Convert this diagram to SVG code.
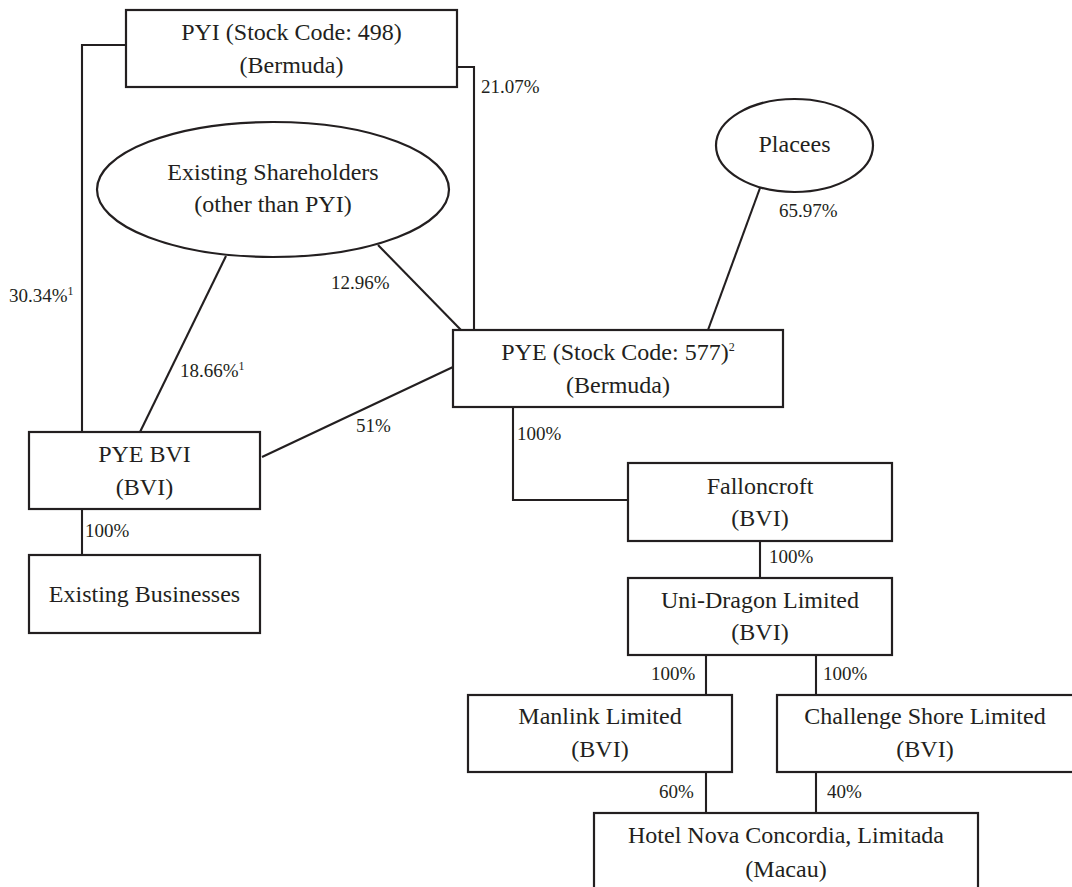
<svg xmlns="http://www.w3.org/2000/svg" width="1072" height="887" viewBox="0 0 1072 887">
<style>
  .box{fill:#fff;stroke:#231f20;stroke-width:2.2}
  .ln{fill:none;stroke:#231f20;stroke-width:2.1}
  .t{font-family:"Liberation Serif","Times New Roman",serif;font-size:24px;fill:#231f20;text-anchor:middle}
  .l{font-family:"Liberation Serif","Times New Roman",serif;font-size:19px;fill:#231f20}
  .s{font-size:12px}
</style>
<rect width="1072" height="887" fill="#fff"/>
<g id="connectors">
  <polyline class="ln" points="126,45 82,45 82,432"/>
  <polyline class="ln" points="457,67 474,67 474,330"/>
  <line class="ln" x1="226" y1="256" x2="140" y2="432"/>
  <line class="ln" x1="378" y1="245" x2="461" y2="330"/>
  <line class="ln" x1="262" y1="457" x2="453" y2="367"/>
  <line class="ln" x1="760" y1="188" x2="708" y2="330"/>
  <line class="ln" x1="82" y1="509" x2="82" y2="555"/>
  <polyline class="ln" points="513,407 513,500 628,500"/>
  <line class="ln" x1="760" y1="541" x2="760" y2="578"/>
  <line class="ln" x1="706" y1="655" x2="706" y2="695"/>
  <line class="ln" x1="816" y1="655" x2="816" y2="695"/>
  <line class="ln" x1="706" y1="772" x2="706" y2="813"/>
  <line class="ln" x1="816" y1="772" x2="816" y2="813"/>
  <text class="l" x="481" y="93">21.07%</text>
  <text class="l" x="331" y="289">12.96%</text>
  <text class="l" x="9" y="302">30.34%<tspan class="s" dy="-7">1</tspan></text>
  <text class="l" x="180" y="377">18.66%<tspan class="s" dy="-7">1</tspan></text>
  <text class="l" x="356" y="432">51%</text>
  <text class="l" x="779" y="217">65.97%</text>
  <text class="l" x="85" y="537">100%</text>
  <text class="l" x="517" y="440">100%</text>
  <text class="l" x="769" y="563">100%</text>
  <text class="l" x="651" y="680">100%</text>
  <text class="l" x="823" y="680">100%</text>
  <text class="l" x="659" y="798">60%</text>
  <text class="l" x="827" y="798">40%</text>
</g>
<g id="pyi">
  <rect class="box" x="126" y="10" width="331" height="77"/>
  <text class="t" x="291.5" y="40">PYI (Stock Code: 498)</text>
  <text class="t" x="291.5" y="73">(Bermuda)</text>
</g>
<g id="existing-shareholders">
  <ellipse class="box" cx="273" cy="189.5" rx="176" ry="67.5"/>
  <text class="t" x="273" y="180">Existing Shareholders</text>
  <text class="t" x="273" y="212">(other than PYI)</text>
</g>
<g id="placees">
  <ellipse class="box" cx="794.5" cy="145.5" rx="78.5" ry="46.5"/>
  <text class="t" x="794.5" y="152">Placees</text>
</g>
<g id="pye">
  <rect class="box" x="453" y="330" width="330" height="77"/>
  <text class="t" x="618" y="360">PYE (Stock Code: 577)<tspan class="s" dy="-9">2</tspan></text>
  <text class="t" x="618" y="393">(Bermuda)</text>
</g>
<g id="pye-bvi">
  <rect class="box" x="29" y="432" width="231" height="77"/>
  <text class="t" x="144.5" y="462">PYE BVI</text>
  <text class="t" x="144.5" y="495">(BVI)</text>
</g>
<g id="existing-businesses">
  <rect class="box" x="29" y="555" width="231" height="78"/>
  <text class="t" x="144.5" y="602">Existing Businesses</text>
</g>
<g id="falloncroft">
  <rect class="box" x="628" y="463" width="264" height="78"/>
  <text class="t" x="760" y="494">Falloncroft</text>
  <text class="t" x="760" y="526">(BVI)</text>
</g>
<g id="uni-dragon">
  <rect class="box" x="628" y="578" width="264" height="77"/>
  <text class="t" x="760" y="608">Uni-Dragon Limited</text>
  <text class="t" x="760" y="640">(BVI)</text>
</g>
<g id="manlink">
  <rect class="box" x="468" y="695" width="264" height="77"/>
  <text class="t" x="600" y="724">Manlink Limited</text>
  <text class="t" x="600" y="757">(BVI)</text>
</g>
<g id="challenge-shore">
  <rect class="box" x="777" y="695" width="310" height="77"/>
  <text class="t" x="925" y="724">Challenge Shore Limited</text>
  <text class="t" x="925" y="757">(BVI)</text>
</g>
<g id="hotel">
  <rect class="box" x="594" y="813" width="384" height="90"/>
  <text class="t" x="786" y="843">Hotel Nova Concordia, Limitada</text>
  <text class="t" x="786" y="877">(Macau)</text>
</g>
</svg>
